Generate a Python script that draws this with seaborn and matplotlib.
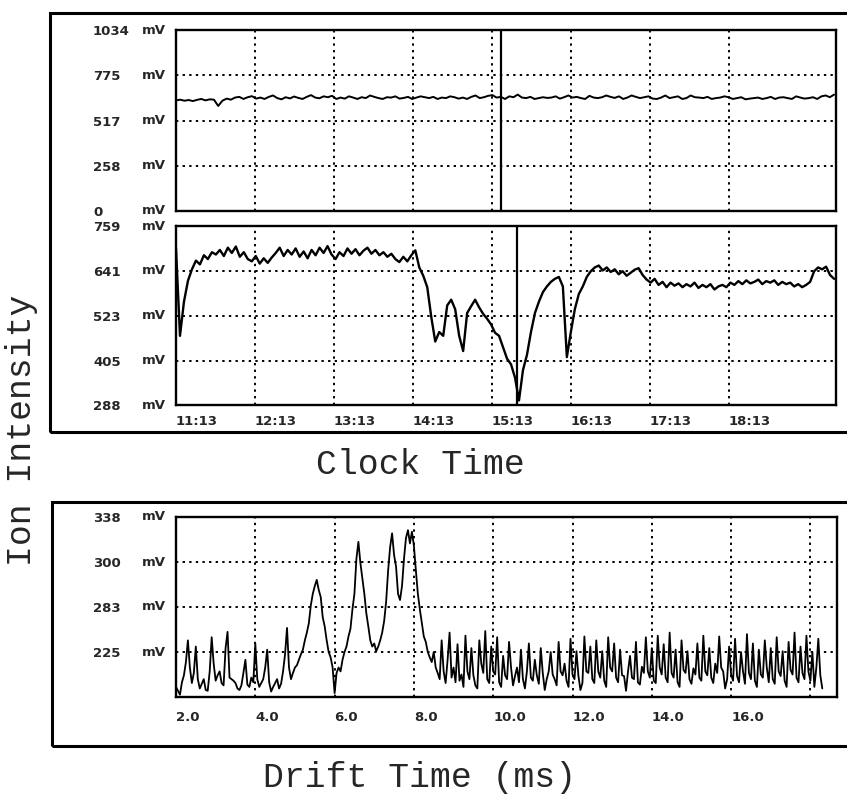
import numpy as np
import pandas as pd
import matplotlib
matplotlib.use("Agg")
import matplotlib.pyplot as plt
import seaborn as sns
from matplotlib.patches import Rectangle
from matplotlib.transforms import blended_transform_factory

# ---------------- data ----------------
clock_labels = ["11:13", "12:13", "13:13", "14:13", "15:13", "16:13", "17:13", "18:13"]
clock_ticks_h = [0, 1, 2, 3, 4, 5, 6, 7]          # hours after 11:13

top_yticks = [0, 258, 517, 775, 1034]
mid_yticks = [288, 405, 523, 641, 759]
drift_ytick_pos = [225, 283, 341, 399]
drift_ytick_labels = ["225", "283", "300", "338"]
drift_xticks = [2.0, 4.0, 6.0, 8.0, 10.0, 12.0, 14.0, 16.0, 18.0]
drift_xtick_labels = ["2.0", "4.0", "6.0", "8.0", "10.0", "12.0", "14.0", "16.0", ""]

top_values = [632, 636, 630, 634, 628, 635, 640, 632, 638, 636,
              600, 630, 642, 636, 648, 652, 640, 650, 656, 642,
              648, 640, 652, 660, 645, 638, 650, 643, 654, 646,
              640, 652, 662, 648, 644, 655, 650, 658, 640, 648,
              642, 655, 648, 640, 650, 645, 660, 652, 645, 640,
              650, 648, 655, 642, 646, 652, 640, 648, 655, 650,
              645, 652, 640, 648, 645, 655, 650, 642, 648, 640,
              652, 660, 645, 650, 658, 662, 648, 652, 640, 655,
              650, 665, 648, 645, 652, 640, 645, 650, 646, 648,
              655, 642, 650, 660, 648, 652, 645, 640, 658, 648,
              645, 650, 660, 652, 646, 655, 640, 648, 660, 652,
              645, 650, 655, 642, 640, 648, 660, 645, 650, 655,
              640, 645, 660, 650, 648, 645, 652, 640, 645, 648,
              655, 650, 640, 645, 650, 638, 642, 645, 648, 640,
              645, 652, 640, 648, 650, 645, 640, 655, 648, 642,
              645, 650, 640, 655, 660, 650, 665]
top_marker_h = 4.11

mid_values = [700, 470, 560, 615, 645, 668, 658, 682, 672, 690, 684, 696, 680, 702,
              688, 705, 678, 690, 672, 666, 680, 660, 674, 662, 676, 688, 702, 680,
              696, 684, 700, 678, 692, 674, 696, 682, 702, 688, 706, 684, 672, 690,
              680, 700, 686, 698, 682, 694, 702, 686, 696, 682, 690, 678, 686, 672,
              664, 678, 666, 682, 695, 650, 628, 598, 520, 455, 480, 470, 550, 565,
              540, 470, 430, 530, 548, 565, 545, 528, 515, 500, 478, 470, 440, 410,
              395, 360, 300, 380, 420, 480, 530, 560, 585, 600, 612, 620, 625, 600,
              414, 480, 540, 580, 600, 625, 640, 650, 655, 642, 650, 638, 645, 632,
              640, 628, 636, 644, 648, 630, 618, 610, 620, 604, 612, 598, 610, 602,
              608, 598, 606, 600, 610, 596, 604, 598, 606, 592, 600, 604, 598, 610,
              604, 614, 606, 616, 608, 612, 618, 606, 614, 610, 616, 604, 612, 606,
              610, 600, 606, 598, 604, 612, 640, 650, 645, 652, 630, 620]
mid_marker_h = 4.32

drift_values = [
    # 2.0 - 5.0 ms
    180, 175, 170, 186, 195, 212, 240, 205, 185, 198,
    232, 190, 178, 184, 190, 176, 175, 200, 244, 210,
    188, 195, 200, 185, 182, 230, 251, 192, 190, 188,
    185, 178, 176, 182, 198, 215, 183, 180, 192, 186,
    236, 190, 180, 185, 190, 205, 228, 186, 174, 180,
    185, 190, 178, 184, 200, 222, 256, 205, 190, 198,
    205,
    # 5.05 - 8.6 ms (peaks)
    208, 215, 222, 228, 240, 250, 262, 285, 300, 310, 318,
    305, 296, 270, 258, 240, 225, 218, 205, 172,
    198, 205, 200, 215, 225, 232, 245, 255, 280, 300, 345,
    367, 340, 320, 300, 275, 258, 240, 232, 236,
    226, 232, 240, 250, 265, 290, 330, 360, 378, 350, 335,
    300, 292, 310, 345, 372, 382, 365, 380, 362,
    330, 300, 280, 262, 245, 238, 225, 218, 212, 225, 205, 198,
    # 8.65 - 18.3 ms
    190, 240, 200, 185, 215, 250, 192, 205, 186, 235,
    188, 196, 180, 246, 200, 190, 230, 195, 182, 178,
    240, 210, 198, 252, 190, 185, 232, 200, 196, 244,
    186, 180, 220, 195, 190, 238, 205, 182, 194, 205,
    186, 228, 190, 178, 200, 236, 192, 188, 215, 195,
    184, 230, 198, 176, 190, 200, 225, 196, 190, 182,
    238, 200, 195, 210, 188, 180, 242, 196, 190, 226,
    194, 176, 185, 245, 200, 198, 232, 190, 185, 240,
    200, 192, 226, 188, 180, 244, 205, 200, 236, 192,
    186, 228, 195, 194, 175, 200, 220, 192, 190, 238,
    186, 183, 206, 198, 244, 200, 192, 230, 188, 185,
    246, 205, 196, 235, 192, 186, 250, 198, 192, 228,
    186, 180, 240, 202, 198, 226, 190, 184, 204, 196,
    236, 192, 188, 246, 200, 195, 230, 192, 185, 210,
    198, 245, 205, 200, 178, 190, 232, 196, 188, 242,
    194, 186, 225, 200, 184, 248, 198, 190, 236, 188,
    180, 228, 196, 192, 240, 205, 186, 230, 190, 184,
    244, 200, 194, 226, 188, 180, 238, 202, 196, 250,
    192, 186, 232, 198, 190, 246, 200, 188, 225, 180,
    205, 242, 195, 178]

# ---------------- style ----------------
sns.set_style("white")
plt.rcParams["font.family"] = ["DejaVu Sans"]

W, H = 847, 799
fig = plt.figure(figsize=(W / 100, H / 100), dpi=100)
fig.patch.set_facecolor("white")


def fx(px):
    return px / W


def fy(py):
    return 1 - py / H


def make_ax(left, top, right, bottom):
    return fig.add_axes([fx(left), fy(bottom), fx(right) - fx(left), (bottom - top) / H])


ax_top = make_ax(176, 30, 836, 211)
ax_mid = make_ax(176, 226, 836, 405)
ax_bot = make_ax(176, 517, 837, 697)

tick_font = dict(fontsize=9.5, fontweight="bold", family="DejaVu Sans")
grid_kw = dict(color="black", linestyle=(0, (1.2, 2.2)), linewidth=1.4)

top_df = pd.DataFrame({"t": np.linspace(0.0, 8.33, len(top_values)), "v": top_values})
mid_df = pd.DataFrame({"t": np.linspace(0.0, 8.33, len(mid_values)), "v": mid_values})
bot_df = pd.DataFrame({"t": np.linspace(2.0, 18.3, len(drift_values)), "v": drift_values})

sns.lineplot(data=top_df, x="t", y="v", ax=ax_top, color="black", linewidth=1.4)
sns.lineplot(data=mid_df, x="t", y="v", ax=ax_mid, color="black", linewidth=1.7)
sns.lineplot(data=bot_df, x="t", y="v", ax=ax_bot, color="black", linewidth=1.3)

ax_top.axvline(top_marker_h, color="black", linewidth=1.6)
ax_mid.axvline(mid_marker_h, color="black", linewidth=1.6)

ax_top.set_xlim(0, 660 / 79)
ax_mid.set_xlim(0, 660 / 79)
ax_bot.set_xlim(2.0, 2.0 + 661 / 39.65)
ax_top.set_ylim(0, 1034)
ax_mid.set_ylim(288, 759)
ax_bot.set_ylim(167, 399)

for ax in (ax_top, ax_mid):
    ax.set_xticks(clock_ticks_h)
ax_top.set_xticklabels([])
ax_mid.set_xticklabels(clock_labels, **tick_font)
ax_bot.set_xticks(drift_xticks)
ax_bot.set_xticklabels(drift_xtick_labels, **tick_font)

ax_top.set_yticks(top_yticks)
ax_top.set_yticklabels([str(v) for v in top_yticks], **tick_font)
ax_mid.set_yticks(mid_yticks)
ax_mid.set_yticklabels([str(v) for v in mid_yticks], **tick_font)
ax_bot.set_yticks(drift_ytick_pos)
ax_bot.set_yticklabels(drift_ytick_labels, **tick_font)

for ax in (ax_top, ax_mid, ax_bot):
    ax.set_xlabel("")
    ax.set_ylabel("")
    ax.grid(True, **grid_kw)
    ax.set_axisbelow(True)
    for s in ax.spines.values():
        s.set_visible(True)
        s.set_color("black")
        s.set_linewidth(1.7)
    ax.tick_params(axis="y", length=0, pad=59.8)
    ax.tick_params(axis="x", length=0, pad=7)
    for lab in ax.get_yticklabels():
        lab.set_horizontalalignment("left")
    for lab in ax.get_xticklabels():
        lab.set_horizontalalignment("left")
    unit_x = (142 - 176) / 660
    trans = blended_transform_factory(ax.transAxes, ax.transData)
    for yv in ax.get_yticks():
        ax.text(unit_x, yv, "mV", transform=trans, ha="left", va="center",
                clip_on=False, **tick_font)

ax_bot.tick_params(axis="x", pad=10)

# outer frames
fig.add_artist(Rectangle((fx(50), fy(432)), fx(900) - fx(50), (432 - 13) / H,
                         transform=fig.transFigure, fill=False, edgecolor="black",
                         linewidth=2.2, clip_on=False))
fig.add_artist(Rectangle((fx(52), fy(746)), fx(900) - fx(52), (746 - 502) / H,
                         transform=fig.transFigure, fill=False, edgecolor="black",
                         linewidth=2.2, clip_on=False))

label_font = dict(fontsize=25, family=["Liberation Mono", "DejaVu Sans Mono"])
fig.text(fx(420), fy(465), "Clock Time", ha="center", va="center", **label_font)
fig.text(fx(420), fy(777), "Drift Time (ms)", ha="center", va="center", **label_font)
fig.text(fx(22), fy(430), "Ion Intensity", ha="center", va="center", rotation=90,
         **label_font)

fig.savefig("out.png", dpi=100, facecolor="white")
